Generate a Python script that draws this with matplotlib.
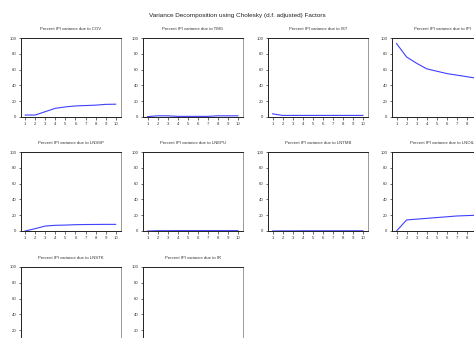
import matplotlib
matplotlib.use("Agg")
import matplotlib.pyplot as plt
import numpy as np

plt.rcParams['font.family'] = ['Liberation Sans', 'DejaVu Sans']

horizon = np.arange(1, 11)

# percent of IPI forecast error variance
cov = [2.5, 2.5, 6.8, 11.0, 12.8, 14.0, 14.5, 15.0, 16.0, 16.2]
tmg = [0.5, 1.5, 1.5, 0.8, 0.8, 0.8, 0.8, 1.5, 1.5, 1.5]
ist = [4.0, 2.0, 2.0, 2.0, 2.0, 2.0, 2.0, 2.0, 2.0, 2.0]
ipi = [93.0, 76.0, 68.0, 61.0, 58.0, 55.0, 53.0, 51.0, 49.0, 48.0]
lnssp = [0.0, 3.0, 6.3, 7.2, 7.5, 8.0, 8.2, 8.3, 8.4, 8.4]
lnepu = [0.0, 0.4, 0.4, 0.5, 0.5, 0.5, 0.5, 0.5, 0.5, 0.5]
lntmb = [0.0, 0.2, 0.2, 0.3, 0.3, 0.3, 0.3, 0.3, 0.3, 0.3]
lnoil = [0.0, 14.0, 15.0, 16.0, 17.0, 18.0, 19.0, 19.5, 20.0, 20.3]
lnstk = [0.0, 0.8, 1.2, 1.5, 1.7, 1.8, 1.9, 2.0, 2.0, 2.0]
ir = [0.0, 0.5, 0.7, 0.8, 0.9, 1.0, 1.0, 1.1, 1.1, 1.2]

names = ["COV", "TMG", "IST", "IPI", "LNSSP", "LNEPU", "LNTMB", "LNOIL",
         "LNSTK", "IR"]
series = [cov, tmg, ist, ipi, lnssp, lnepu, lntmb, lnoil, lnstk, ir]

W, H = 474, 338
fig = plt.figure(figsize=(W / 100, H / 100), dpi=100)
fig.patch.set_facecolor("white")

col_left = [20.7, 143, 268, 392]
row_top = [38, 152, 267]
aw, ah = 100, 79

fig.text(237 / W, 1 - 15 / H,
         "Variance Decomposition using Cholesky (d.f. adjusted) Factors",
         ha="center", va="center", fontsize=4.6, color="#222222")

for i, (name, vals) in enumerate(zip(names, series)):
    r, c = divmod(i, 4)
    x0 = col_left[c]
    y0 = row_top[r]
    ax = fig.add_axes([x0 / W, 1 - (y0 + ah) / H, aw / W, ah / H])
    ax.plot(horizon, vals, color="#4040ff", lw=0.8)
    ax.set_xlim(0.55, 10.5)
    ax.set_ylim(0, 100)
    ax.set_xticks(horizon)
    ax.set_yticks([0, 20, 40, 60, 80, 100])
    ax.tick_params(labelsize=3.1, length=1.8, width=0.5, pad=1.5,
                   colors="#333333")
    for s in ["left", "bottom", "top"]:
        ax.spines[s].set_color("#222222")
        ax.spines[s].set_linewidth(0.7)
    ax.spines["right"].set_color("#999999")
    ax.spines["right"].set_linewidth(0.7)
    fig.text((x0 + aw / 2) / W, 1 - (y0 - 9) / H,
             "Percent IPI variance due to " + name,
             ha="center", va="center", fontsize=3.1, color="#333333")

fig.savefig("out.png", dpi=100, facecolor="white")
